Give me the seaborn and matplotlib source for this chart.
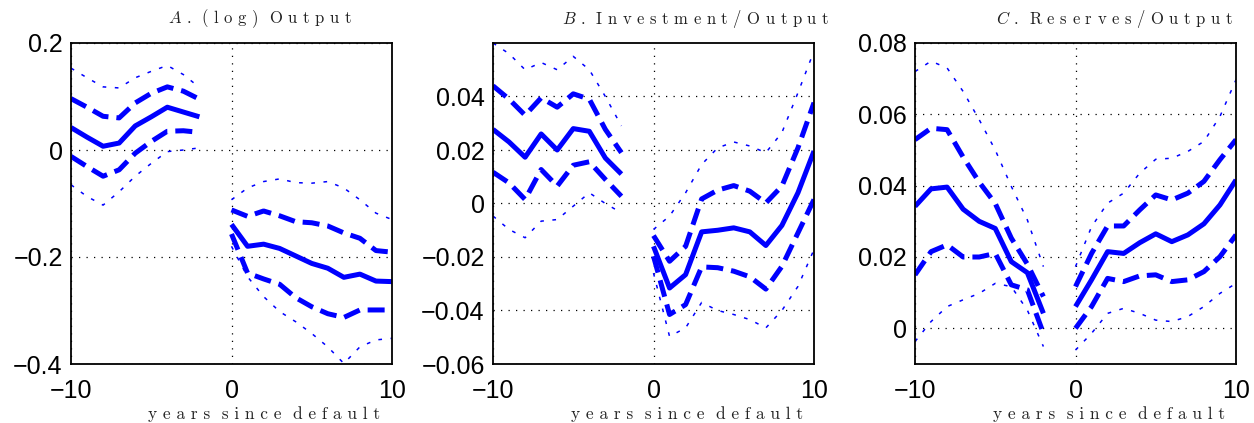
import numpy as np
import pandas as pd
import matplotlib
matplotlib.use("Agg")
import matplotlib.pyplot as plt
import seaborn as sns

# ---------------- data ----------------
years = list(range(-10, 11))          # -1 is missing (default year gap)
N = None

# Panel A: (log) Output
a_mid   = [0.042, 0.024, 0.007, 0.013, 0.045, 0.062, 0.080, 0.071, 0.062, N,
           -0.139, -0.180, -0.176, -0.184, -0.198, -0.212, -0.221, -0.238, -0.232, -0.245, -0.246]
a_up1   = [0.096, 0.080, 0.063, 0.060, 0.088, 0.106, 0.118, 0.110, 0.095, N,
           -0.112, -0.124, -0.114, -0.123, -0.134, -0.136, -0.142, -0.155, -0.165, -0.188, -0.191]
a_lo1   = [-0.012, -0.031, -0.049, -0.037, -0.006, 0.016, 0.035, 0.036, 0.033, N,
           -0.157, -0.230, -0.241, -0.251, -0.276, -0.293, -0.306, -0.313, -0.299, -0.299, -0.299]
a_up2   = [0.153, 0.135, 0.118, 0.116, 0.135, 0.147, 0.158, 0.141, 0.117, N,
           -0.093, -0.071, -0.059, -0.054, -0.061, -0.062, -0.059, -0.071, -0.093, -0.118, -0.130]
a_lo2   = [-0.065, -0.087, -0.103, -0.078, -0.049, -0.025, -0.003, 0.000, 0.004, N,
           -0.180, -0.237, -0.274, -0.302, -0.321, -0.343, -0.368, -0.399, -0.368, -0.355, -0.352]

# Panel B: Investment/Output
b_mid   = [0.0277, 0.0230, 0.0173, 0.0260, 0.0200, 0.0280, 0.0270, 0.0170, 0.0110, N,
           -0.0160, -0.0316, -0.0266, -0.0106, -0.0100, -0.0091, -0.0106, -0.0157, -0.0082, 0.0040, 0.0196]
b_up1   = [0.0440, 0.0390, 0.0330, 0.0395, 0.0360, 0.0410, 0.0390, 0.0277, 0.0190, N,
           -0.0120, -0.0216, -0.0160, 0.0017, 0.0050, 0.0067, 0.0046, 0.0002, 0.0065, 0.0208, 0.0377]
b_lo1   = [0.0117, 0.0077, 0.0015, 0.0127, 0.0065, 0.0143, 0.0156, 0.0090, 0.0027, N,
           -0.0197, -0.0415, -0.0378, -0.0237, -0.0240, -0.0253, -0.0274, -0.0320, -0.0235, -0.0110, 0.0015]
b_up2   = [0.0600, 0.0560, 0.0500, 0.0527, 0.0500, 0.0550, 0.0500, 0.0400, 0.0290, N,
           -0.0097, -0.0047, 0.0040, 0.0146, 0.0208, 0.0230, 0.0215, 0.0190, 0.0265, 0.0414, 0.0570]
b_lo2   = [-0.0047, -0.0097, -0.0128, -0.0066, -0.0060, -0.0010, 0.0040, 0.0000, -0.0035, N,
           -0.0260, -0.0497, -0.0465, -0.0370, -0.0400, -0.0415, -0.0434, -0.0465, -0.0400, -0.0310, -0.0172]

# Panel C: Reserves/Output
c_mid   = [0.0342, 0.0391, 0.0396, 0.0334, 0.0300, 0.0280, 0.0187, 0.0156, 0.0042, N,
           0.0061, 0.0136, 0.0215, 0.0210, 0.0240, 0.0265, 0.0243, 0.0262, 0.0293, 0.0346, 0.0416]
c_up1   = [0.0529, 0.0561, 0.0557, 0.0480, 0.0410, 0.0350, 0.0253, 0.0180, 0.0089, N,
           0.0117, 0.0210, 0.0287, 0.0287, 0.0332, 0.0374, 0.0360, 0.0379, 0.0412, 0.0473, 0.0529]
c_lo1   = [0.0150, 0.0215, 0.0234, 0.0200, 0.0200, 0.0210, 0.0122, 0.0108, -0.0014, N,
           0.0000, 0.0061, 0.0140, 0.0131, 0.0147, 0.0150, 0.0131, 0.0136, 0.0159, 0.0201, 0.0262]
c_up2   = [0.0720, 0.0749, 0.0730, 0.0664, 0.0585, 0.0500, 0.0398, 0.0304, 0.0173, N,
           0.0173, 0.0285, 0.0351, 0.0379, 0.0435, 0.0474, 0.0477, 0.0496, 0.0524, 0.0594, 0.0697]
c_lo2   = [-0.0037, 0.0019, 0.0061, 0.0080, 0.0098, 0.0126, 0.0117, 0.0051, -0.0051, N,
           -0.0061, -0.0014, 0.0042, 0.0056, 0.0042, 0.0023, 0.0019, 0.0033, 0.0061, 0.0098, 0.0126]

titles = [r"$A$ .  ( l o g )  O u t p u t",
          r"$B$ .  I n v e s t m e n t / O u t p u t",
          r"$C$ .  R e s e r v e s / O u t p u t"]
xlabel_text = "y e a r s  s i n c e  d e f a u l t"

ylims  = [(-0.4, 0.2), (-0.06, 0.06), (-0.01, 0.08)]
yticks = [[-0.4, -0.2, 0, 0.2],
          [-0.06, -0.04, -0.02, 0, 0.02, 0.04],
          [0, 0.02, 0.04, 0.06, 0.08]]
ytick_labels = [["\u22120.4", "\u22120.2", "0", "0.2"],
                ["\u22120.06", "\u22120.04", "\u22120.02", "0", "0.02", "0.04"],
                ["0", "0.02", "0.04", "0.06", "0.08"]]
xticks = [-10, 0, 10]
xtick_labels = ["\u221210", "0", "10"]

panels = [
    {"mid": a_mid, "up1": a_up1, "lo1": a_lo1, "up2": a_up2, "lo2": a_lo2},
    {"mid": b_mid, "up1": b_up1, "lo1": b_lo1, "up2": b_up2, "lo2": b_lo2},
    {"mid": c_mid, "up1": c_up1, "lo1": c_lo1, "up2": c_up2, "lo2": c_lo2},
]

# ---------------- style ----------------
sns.set_style("white")
plt.rcParams["font.family"] = ["Liberation Sans", "DejaVu Sans"]
plt.rcParams["mathtext.fontset"] = "cm"

BLUE = "#0000ff"
band_style = {
    "mid": dict(linestyle="-", linewidth=3.6),
    "up1": dict(linestyle=(0, (3.4, 1.6)), linewidth=3.6),
    "lo1": dict(linestyle=(0, (3.4, 1.6)), linewidth=3.6),
    "up2": dict(linestyle=(0, (2.4, 5.6)), linewidth=1.1),
    "lo2": dict(linestyle=(0, (2.4, 5.6)), linewidth=1.1),
}

W, H = 1254, 423
fig = plt.figure(figsize=(W / 100, H / 100), dpi=100)

ax_left_px = [71, 493, 915]
ax_w_px, ax_h_px = 321, 321
ax_top_px = 43
title_cx = [260, 696, 1114]
xlabel_cx = [264, 687, 1109]

for i, pdata in enumerate(panels):
    ax = fig.add_axes([ax_left_px[i] / W, (H - ax_top_px - ax_h_px) / H,
                       ax_w_px / W, ax_h_px / H])
    rows = []
    for band, vals in pdata.items():
        for yr, v in zip(years, vals):
            if v is None:
                continue
            rows.append({"year": yr, "value": v, "band": band,
                         "segment": "pre" if yr < 0 else "post"})
    df = pd.DataFrame(rows)
    for band in ["up2", "lo2", "up1", "lo1", "mid"]:
        sub = df[df["band"] == band]
        sns.lineplot(data=sub, x="year", y="value", units="segment",
                     estimator=None, color=BLUE, ax=ax, legend=False,
                     solid_capstyle="butt", dash_capstyle="butt",
                     **band_style[band])

    ax.set_xlim(-10, 10)
    ax.set_ylim(*ylims[i])
    ax.set_xticks(xticks)
    ax.set_xticklabels(xtick_labels)
    ax.set_yticks(yticks[i])
    ax.set_yticklabels(ytick_labels[i])
    ax.tick_params(axis="both", length=0, labelsize=18, colors="black")
    ax.tick_params(axis="y", pad=6)
    ax.tick_params(axis="x", pad=11)
    ax.grid(True, color="black", linestyle=(0, (1, 5)), linewidth=0.9)
    ax.set_axisbelow(True)
    for s in ax.spines.values():
        s.set_visible(True)
        s.set_color("black")
        s.set_linewidth(1.3)
    ax.set_xlabel("")
    ax.set_ylabel("")

    fig.text(title_cx[i] / W, 1 - 19 / H, titles[i], ha="center", va="center",
             fontsize=12, family="cmr10", color="#222222")
    fig.text(xlabel_cx[i] / W, (H - 419) / H, xlabel_text, ha="center",
             va="baseline", fontsize=12.5, family="cmr10", color="#222222")

fig.savefig("out.png", dpi=100)
